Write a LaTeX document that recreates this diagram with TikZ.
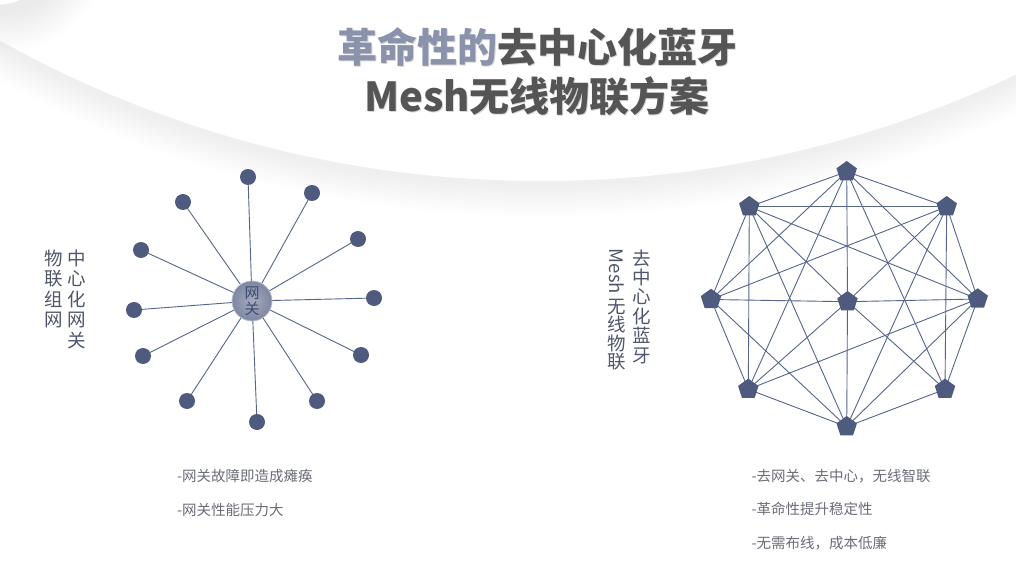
\documentclass[tikz,border=0pt]{standalone}
\usepackage{fontspec}
\setmainfont{Noto Sans CJK SC}
\newfontfamily\cjk{Noto Sans CJK SC}
\usetikzlibrary{shapes.geometric}
\definecolor{navy}{HTML}{4E5B7E}
\definecolor{edgec}{HTML}{56658C}
\definecolor{titledark}{HTML}{555555}
\definecolor{titleblue}{HTML}{8B92AC}
\definecolor{vtext}{HTML}{50566B}
\definecolor{btext}{HTML}{6B6E78}
\definecolor{hubtext}{HTML}{3D4A70}
\definecolor{hubin}{HTML}{A5ABC0}
\definecolor{hubout}{HTML}{7E86A1}
\definecolor{hubline}{HTML}{B8BDCD}
\pgfdeclarelayer{back}
\pgfdeclarelayer{edges}
\pgfsetlayers{back,edges,main}
\tikzset{
  dot/.style={circle,fill=navy,minimum size=16pt,inner sep=0pt},
  pent/.style={regular polygon,regular polygon sides=5,fill=navy,minimum size=21.5pt,inner sep=0pt},
  link/.style={draw=edgec,line width=0.9pt},
  vcol/.style={text=vtext,align=center,inner sep=0pt,font=\cjk\fontsize{18.5}{20.5}\selectfont},
  bullet/.style={text=btext,anchor=west,inner sep=0pt,font=\cjk\fontsize{14.5}{16}\selectfont},
  titlefont/.style={inner sep=0pt,font=\cjk\bfseries\fontsize{40}{44}\selectfont}
}
\begin{document}
\begin{tikzpicture}[x=1pt,y=-1pt]
\useasboundingbox (0,0) rectangle (1016,569);
\begin{pgfonlayer}{back}
\fill[white] (0,0) rectangle (1016,569);
\begin{scope}
\clip (0,0) rectangle (1016,569);
% big circle shadow
\foreach \k in {2,4,...,32} {
  \pgfmathsetmacro\rr{1110+\k}
  \fill[black,opacity=0.0045] (541,-925) circle[radius=\rr pt];
}
\fill[white] (541,-929) circle[radius=1110pt];
% small corner circle shadow
\foreach \k in {2,4,...,40} {
  \pgfmathsetmacro\rr{65+\k}
  \fill[black,opacity=0.005] (3,-53) circle[radius=\rr pt];
}
\fill[white] (-5,-60) circle[radius=65pt];
\end{scope}
\end{pgfonlayer}

% title
\node[titlefont,text=gray,opacity=0.3] (t1s) at (538.5,48) {革命性的去中心化蓝牙};
\node[titlefont,text=gray,opacity=0.3] (t2s) at (538,97) {Mesh无线物联方案};
\node[titlefont,text=titledark] (t1) at (537.5,47) {{\color{titleblue}革命性的}去中心化蓝牙};
\node[titlefont,text=titledark] (t2) at (537,96) {Mesh无线物联方案};

% left star
\node[circle,minimum size=40pt,inner sep=0pt,inner color=hubin,outer color=hubout,draw=hubline,line width=0.8pt,
  align=center,text=hubtext,font=\cjk\fontsize{15}{16.5}\selectfont] (hub) at (252,301) {网\\关};
\node[dot] (d1) at (248,177) {};
\node[dot] (d2) at (312,193) {};
\node[dot] (d3) at (358,239) {};
\node[dot] (d4) at (374,298) {};
\node[dot] (d5) at (361,355) {};
\node[dot] (d6) at (317,401) {};
\node[dot] (d7) at (257,422) {};
\node[dot] (d8) at (187,401) {};
\node[dot] (d9) at (143,356) {};
\node[dot] (d10) at (134,310) {};
\node[dot] (d11) at (141,250) {};
\node[dot] (d12) at (183,202) {};
\begin{pgfonlayer}{edges}
\foreach \i in {1,...,12} \draw[link] (d\i.center) -- (hub.center);
\end{pgfonlayer}

% left vertical text
\node[vcol] (lc1) at (77,299) {中\\心\\化\\网\\关};
\node[vcol] (lc2) at (53.5,289) {物\\联\\组\\网};

% right vertical text
\node[vcol,font=\cjk\fontsize{18.5}{19.4}\selectfont] (rc1) at (641.7,306.5) {去\\中\\心\\化\\蓝\\牙};
\node[text=vtext,inner sep=0pt,rotate=-90,font=\cjk\fontsize{18.5}{20}\selectfont] (rmesh) at (617,271.5) {Mesh};
\node[vcol,font=\cjk\fontsize{18.5}{18.4}\selectfont] (rc2) at (617,334.5) {无\\线\\物\\联};

% right mesh network
\node[pent] (T) at (846.7,171.7) {};
\node[pent] (UL) at (749.3,206.7) {};
\node[pent] (UR) at (946.7,206.7) {};
\node[pent] (L) at (711,299.5) {};
\node[pent] (C) at (847.5,301.7) {};
\node[pent] (R) at (977.7,299) {};
\node[pent] (LL) at (748.3,389.3) {};
\node[pent] (LR) at (945,389.3) {};
\node[pent] (B) at (846.7,426.7) {};
\begin{pgfonlayer}{edges}
\foreach \a/\b in {T/UR,UR/R,R/LR,LR/B,B/LL,LL/L,L/UL,UL/T,
  C/T,C/UR,C/R,C/LR,C/B,C/LL,C/L,C/UL,
  UL/UR,UL/LL,UR/LR,T/L,T/R,T/LL,T/LR,B/L,B/R,B/UL,B/UR,L/UR,R/UL,R/LL}
  \draw[link] (\a.center) -- (\b.center);
\end{pgfonlayer}

% bullet texts
\node[bullet] (bl1) at (177,476.5) {-网关故障即造成瘫痪};
\node[bullet] (bl2) at (177,510) {-网关性能压力大};
\node[bullet] (br1) at (751.5,476.5) {-去网关、去中心，无线智联};
\node[bullet] (br2) at (751.5,509) {-革命性提升稳定性};
\node[bullet] (br3) at (751.5,543.5) {-无需布线，成本低廉};
\end{tikzpicture}
\end{document}
